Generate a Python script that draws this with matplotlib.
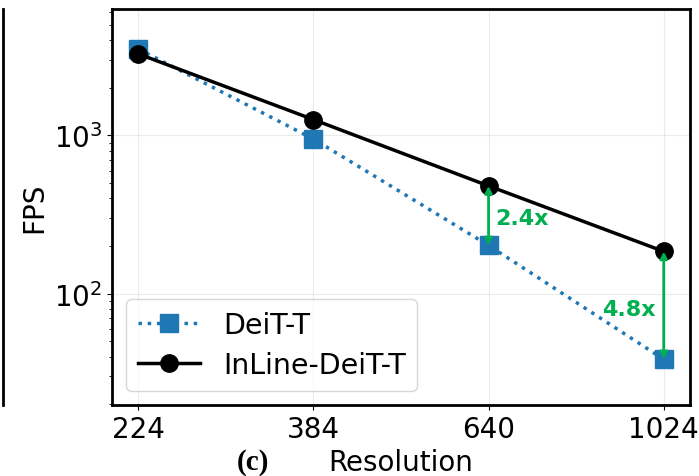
import numpy as np
import matplotlib
matplotlib.use("Agg")
import matplotlib.pyplot as plt
from matplotlib.lines import Line2D

resolutions = ["224", "384", "640", "1024"]
deit_fps = [3520, 950, 202, 38.5]
inline_fps = [3280, 1260, 480, 185]
speedup_labels = ["2.4x", "4.8x"]

fig = plt.figure(figsize=(6.99, 4.77), dpi=100)
ax = fig.add_axes([112 / 699, 1 - 406 / 477, (690 - 112) / 699, (406 - 10) / 477])

x = np.arange(len(resolutions))
ax.plot(x, deit_fps, ':s', color='#1f77b4', lw=2.5, ms=13, label='DeiT-T')
ax.plot(x, inline_fps, '-o', color='black', lw=2.5, ms=12.5, label='InLine-DeiT-T')
ax.set_yscale('log')
ax.set_ylim(19.8, 6300)
ax.set_xticks(x)
ax.set_xticklabels(resolutions)
ax.tick_params(axis='both', labelsize=20)
ax.grid(True, alpha=0.25)
for s in ax.spines.values():
    s.set_linewidth(2)
ax.set_ylabel('FPS', fontsize=20)
ax.set_xlabel('Resolution', fontsize=20, labelpad=4)

green = '#00b050'
for i, lab, tx, ty in [(2, speedup_labels[0], 2.04, 300), (3, speedup_labels[1], 2.65, 80)]:
    ax.annotate('', xy=(x[i], deit_fps[i]), xytext=(x[i], inline_fps[i]),
                arrowprops=dict(arrowstyle='<->', color=green, lw=2, shrinkA=0, shrinkB=0,
                                mutation_scale=10))
    ax.text(tx, ty, lab, color=green, fontsize=16, fontweight='bold', va='center')

ax.legend(loc='lower left', fontsize=20.5, handlelength=2.2, labelspacing=0.45)

fig.text(253 / 699, 1 - 463 / 477, '(c)', fontsize=21, fontweight='bold',
         family='Liberation Serif', ha='center', va='center')
fig.add_artist(Line2D([3 / 699, 3 / 699], [1 - 406 / 477, 1 - 10 / 477], color='black', lw=2))

fig.savefig('out.png', dpi=100)
